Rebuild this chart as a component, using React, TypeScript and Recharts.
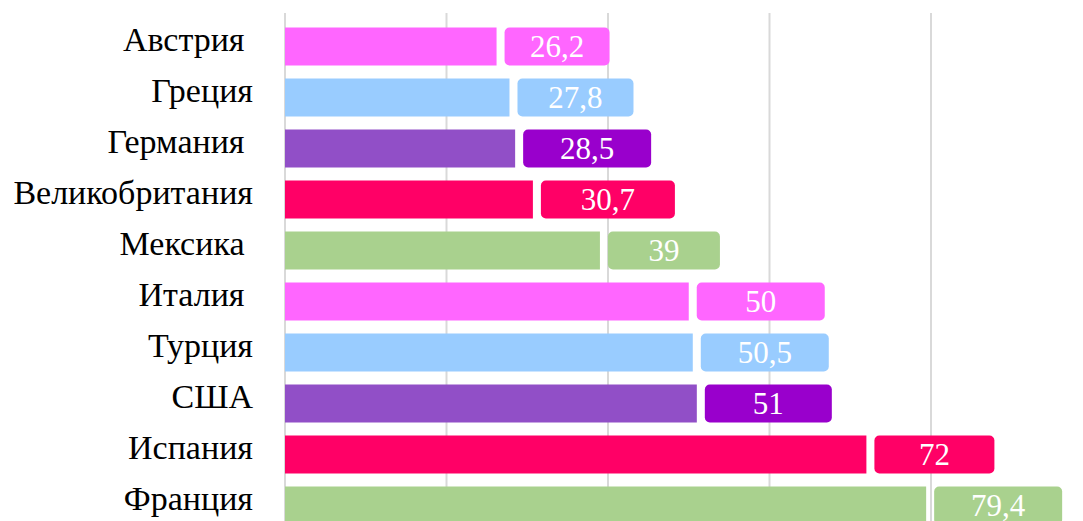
import React from "react";
import { BarChart, Bar, XAxis, YAxis, CartesianGrid, Cell, LabelList } from "recharts";

const categories = [
  "Австрия ",
  "Греция",
  "Германия ",
  "Великобритания",
  "Мексика ",
  "Италия ",
  "Турция",
  "США",
  "Испания",
  "Франция",
];
const values = [26.2, 27.8, 28.5, 30.7, 39, 50, 50.5, 51, 72, 79.4];
const valueLabels = ["26,2", "27,8", "28,5", "30,7", "39", "50", "50,5", "51", "72", "79,4"];
const xTicks = [0, 20, 40, 60, 80];

const barColors = ["#FF66FF", "#99CCFF", "#914FC7", "#FF0066", "#A9D18E", "#FF66FF", "#99CCFF", "#914FC7", "#FF0066", "#A9D18E"];
const boxColors = ["#FF66FF", "#99CCFF", "#9900CC", "#FF0066", "#A9D18E", "#FF66FF", "#99CCFF", "#9900CC", "#FF0066", "#A9D18E"];
const boxWidths = [105, 116, 128, 134, 112, 128, 128, 127, 120, 128];

const data = categories.map((name, i) => ({ name, value: values[i], label: valueLabels[i] }));

const FONT = "Liberation Serif, Times New Roman, serif";

const YTick = (props: any) => {
  const { x, y, payload } = props;
  return (
    <text
      x={x}
      y={y + 5}
      textAnchor="end"
      fill="#000"
      style={{ fontFamily: FONT, fontSize: 34, whiteSpace: "pre" }}
    >
      {payload.value}
    </text>
  );
};

const BoxLabel = (props: any) => {
  const { x, y, width, height, index } = props;
  const bx = x + width + 8;
  const w = boxWidths[index];
  return (
    <g>
      <rect x={bx} y={y} width={w} height={height} rx={5} ry={5} fill={boxColors[index]} />
      <text
        x={bx + w / 2}
        y={y + height / 2}
        textAnchor="middle"
        dominantBaseline="central"
        fill="#fff"
        style={{ fontFamily: FONT, fontSize: 31 }}
      >
        {valueLabels[index]}
      </text>
    </g>
  );
};

export default function App() {
  return (
    <div style={{ position: "absolute", left: 0, top: 0, width: 1083, height: 521, overflow: "hidden", background: "#fff" }}>
      <BarChart
        width={1083}
        height={538}
        data={data}
        layout="vertical"
        margin={{ top: 13, right: 152, left: 0, bottom: 0 }}
      >
        <CartesianGrid horizontal={false} stroke="#d9d9d9" strokeWidth={2} />
        <XAxis type="number" domain={[0, 80]} ticks={xTicks} hide />
        <YAxis
          type="category"
          dataKey="name"
          width={285}
          axisLine={false}
          tickLine={false}
          tickSize={0}
          tickMargin={32}
          tick={<YTick />}
          padding={{ top: 7.5, bottom: 7.5 }}
          interval={0}
        />
        <Bar dataKey="value" barSize={38} isAnimationActive={false}>
          {data.map((d, i) => (
            <Cell key={i} fill={barColors[i]} />
          ))}
          <LabelList dataKey="label" content={<BoxLabel />} />
        </Bar>
      </BarChart>
    </div>
  );
}
